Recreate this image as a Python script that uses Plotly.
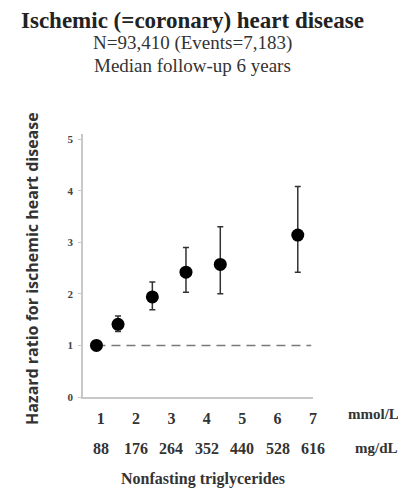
import plotly.graph_objects as go

# Data
trig_mmol = [0.88, 1.49, 2.46, 3.41, 4.38, 6.57]
hazard_ratio = [1.00, 1.41, 1.94, 2.42, 2.57, 3.14]
ci_low = [1.00, 1.27, 1.69, 2.03, 2.00, 2.42]
ci_high = [1.00, 1.57, 2.23, 2.90, 3.30, 4.08]

mmol_ticks = [1, 2, 3, 4, 5, 6, 7]
mgdl_labels = ["88", "176", "264", "352", "440", "528", "616"]
y_ticks = [0, 1, 2, 3, 4, 5]
reference_hr = 1.0
reference_end = 6.95

err_plus = [h - m for h, m in zip(ci_high, hazard_ratio)]
err_minus = [m - l for m, l in zip(hazard_ratio, ci_low)]

SERIF = "Liberation Serif, Times New Roman, serif"
SANS = "Open Sans, Lato, Liberation Sans, sans-serif"

fig = go.Figure()
fig.add_shape(type="line", xref="x", yref="y",
              x0=trig_mmol[0], x1=reference_end, y0=reference_hr, y1=reference_hr,
              line=dict(color="#7a7a7a", width=1.5, dash="9px,6px"), layer="below")
fig.add_trace(go.Scatter(
    x=trig_mmol, y=hazard_ratio, mode="markers",
    marker=dict(color="black", size=13),
    error_y=dict(type="data", symmetric=False, array=err_plus, arrayminus=err_minus,
                 color="#333333", thickness=1.5, width=3),
    showlegend=False, hoverinfo="skip"))

fig.update_xaxes(range=[0.5, 7.0], showline=True, linecolor="#c8c8c8", linewidth=1.5,
                 showgrid=False, zeroline=False, tickvals=mmol_ticks,
                 ticktext=["<b>%d</b>" % v for v in mmol_ticks], ticks="",
                 tickfont=dict(family=SERIF, size=16, color="#333333"),
                 ticklabelstandoff=6)
fig.update_yaxes(range=[0, 5.1], showline=True, linecolor="#c8c8c8", linewidth=1.5,
                 showgrid=False, zeroline=False, tickvals=y_ticks,
                 ticktext=["<b>%d</b>" % v for v in y_ticks], ticks="outside",
                 ticklen=3, tickcolor="#c8c8c8",
                 tickfont=dict(family=SERIF, size=11, color="#444444"),
                 ticklabelstandoff=3)

ann = []
for xv, lab in zip(mmol_ticks, mgdl_labels):
    ann.append(dict(x=xv, y=-0.194, xref="x", yref="paper", text="<b>%s</b>" % lab,
                    showarrow=False, xanchor="center", yanchor="middle",
                    font=dict(family=SERIF, size=16, color="#333333")))
ann += [
    dict(x=1.265, y=-0.0646, xref="paper", yref="paper", text="<b>mmol/L</b>", showarrow=False,
         xanchor="center", yanchor="middle", font=dict(family=SERIF, size=15, color="#333333")),
    dict(x=1.274, y=-0.194, xref="paper", yref="paper", text="<b>mg/dL</b>", showarrow=False,
         xanchor="center", yanchor="middle", font=dict(family=SERIF, size=15, color="#333333")),
    dict(x=0.522, y=-0.312, xref="paper", yref="paper", text="<b>Nonfasting triglycerides</b>",
         showarrow=False, xanchor="center", yanchor="middle",
         font=dict(family=SERIF, size=16, color="#333333")),
    dict(x=-0.222, y=0.49, xref="paper", yref="paper",
         text="<b>Hazard ratio for ischemic heart disease</b>", textangle=-90,
         showarrow=False, xanchor="center", yanchor="middle",
         font=dict(family=SANS, size=16, color="#333333")),
    dict(x=0.478, y=1.43, xref="paper", yref="paper",
         text="<b>Ischemic (=coronary) heart disease</b>", showarrow=False,
         xanchor="center", yanchor="middle",
         font=dict(family=SERIF, size=23, color="#222222")),
    dict(x=0.478, y=1.346, xref="paper", yref="paper", text="N=93,410 (Events=7,183)",
         showarrow=False, xanchor="center", yanchor="middle",
         font=dict(family=SERIF, size=19, color="#333333")),
    dict(x=0.478, y=1.262, xref="paper", yref="paper", text="Median follow-up 6 years",
         showarrow=False, xanchor="center", yanchor="middle",
         font=dict(family=SERIF, size=19, color="#333333")),
]

# the page body adds an 8px margin, so the figure is 8px smaller than the window
fig.update_layout(width=398, height=484, margin=dict(l=75, r=93, t=126, b=95),
                  paper_bgcolor="white", plot_bgcolor="white", annotations=ann)

fig.write_html("out.html")
